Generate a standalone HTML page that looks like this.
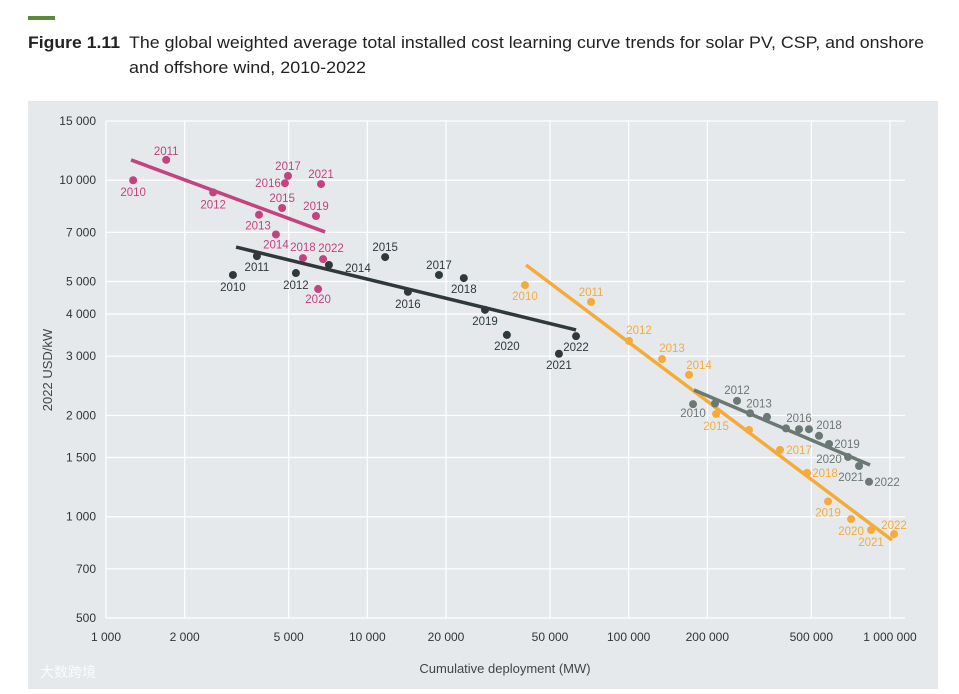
<!DOCTYPE html>
<html><head><meta charset="utf-8"><style>
body{margin:0;background:#fff;width:959px;height:689px;overflow:hidden;font-family:"Liberation Sans","Noto Sans CJK SC",sans-serif}
</style></head><body>
<svg id="chart" width="959" height="689" xmlns="http://www.w3.org/2000/svg" style="font-family:'Liberation Sans','Noto Sans CJK SC',sans-serif">
<rect x="28" y="16" width="27" height="4" fill="#5a8a3a"/>
<text x="28" y="48" font-size="16.5" font-weight="bold" fill="#222" textLength="92" lengthAdjust="spacingAndGlyphs">Figure 1.11</text>
<text x="129" y="48" font-size="17" fill="#222" textLength="795" lengthAdjust="spacingAndGlyphs">The global weighted average total installed cost learning curve trends for solar PV, CSP, and onshore</text>
<text x="129" y="73" font-size="17" fill="#222" textLength="237" lengthAdjust="spacingAndGlyphs">and offshore wind, 2010-2022</text>
<rect x="28" y="101" width="910" height="588" fill="#e5e9ec"/>
<g id="grid"></g><g id="axes"></g><g id="series"></g>
<text transform="translate(52,370) rotate(-90)" text-anchor="middle" font-size="13" fill="#444">2022 USD/kW</text>
<text x="505" y="673" text-anchor="middle" font-size="13" fill="#444">Cumulative deployment (MW)</text>
<text x="40" y="677" font-size="14" fill="#fff" opacity="0.8">大数跨境</text>
</svg>
<script>
const xTicks=[1000,2000,5000,10000,20000,50000,100000,200000,500000,1000000];
const xTickLabels=["1 000","2 000","5 000","10 000","20 000","50 000","100 000","200 000","500 000","1 000 000"];
const yTicks=[15000,10000,7000,5000,4000,3000,2000,1500,1000,700,500];
const yTickLabels=["15 000","10 000","7 000","5 000","4 000","3 000","2 000","1 500","1 000","700","500"];
const years=[2010,2011,2012,2013,2014,2015,2016,2017,2018,2019,2020,2021,2022];
const cspX=[1270,1700,2570,3850,4470,4720,4840,4970,5670,6360,6480,6650,6770];
const cspY=[10000,11500,9200,7900,6900,8270,9800,10300,5870,7830,4750,9740,5830];
const cspTrendX=[1247,6890];const cspTrendY=[11490,7020];
const onX=[3060,3780,5330,null,7130,11700,14300,18800,23400,28200,34200,54100,62900];
const onY=[5230,5950,5300,null,5600,5910,4660,5230,5120,4120,3470,3050,3440];
const onTrendX=[3145,62900];const onTrendY=[6330,3590];
const pvX=[40100,71800,100300,134200,170200,216000,288700,379500,481400,579400,709600,846300,1036000];
const pvY=[4880,4350,3330,2940,2640,2020,1810,1580,1350,1110,984,913,888];
const pvTrendX=[40480,1018000];const pvTrendY=[5600,852];
const offX=[176300,214000,259800,291400,338300,400000,448700,489800,535200,584500,690800,761200,831200];
const offY=[2160,2170,2210,2030,1980,1830,1820,1820,1740,1645,1505,1415,1270];
const offTrendX=[177800,838500];const offTrendY=[2380,1425];

// layout-only label offsets (dx,dy) per year; null = no label
const cspLab=[[0,12],[0,-9],[0,12],[-1,11],[0,10],[0,-10],[-17,0],[0,-10],[0,-11],[0,-10],[0,10],[0,-10],[8,-11]];
const onLab=[[0,12],[0,11],[0,12],null,[29,3],[0,-10],[0,12],[0,-10],[0,11],[0,11],[0,11],[0,11],[0,11]];
const pvLab=[[0,11],[0,-10],[10,-11],[10,-11],[10,-10],[0,12],null,[19,0],[18,0],[0,11],[0,12],[0,12],[0,-9]];
const offLab=[[0,9],null,[0,-11],[9,-10],null,null,[0,-11],null,[10,-11],[18,0],[-19,2],[-8,11],[18,0]];

const X0=106,X1=890,Y0=618,YT=121;
const lyMin=Math.log10(500),lyMax=Math.log10(15000);
function sx(v){return X0+(Math.log10(v)-3)/3*(X1-X0);}
function sy(v){return Y0-(Math.log10(v)-lyMin)/(lyMax-lyMin)*(Y0-YT);}
const NS="http://www.w3.org/2000/svg";
function mk(tag,at,parent){const e=document.createElementNS(NS,tag);for(const k in at)e.setAttribute(k,at[k]);parent.appendChild(e);return e;}
const grid=document.getElementById('grid'),axes=document.getElementById('axes'),ser=document.getElementById('series');
xTicks.forEach((t,i)=>{
  const l=mk('line',{x1:sx(t),x2:sx(t),y1:YT,y2:Y0,stroke:'#fff','stroke-width':1.2},grid);
  
  
  const tx=mk('text',{x:sx(t),y:641,'text-anchor':'middle','font-size':12,fill:'#333'},axes);
  tx.textContent=xTickLabels[i];
  
  
});
yTicks.forEach((t,i)=>{
  const l=mk('line',{x1:X0,x2:905,y1:sy(t),y2:sy(t),stroke:'#fff','stroke-width':1.2},grid);
  
  
  const tx=mk('text',{x:96,y:sy(t)+4,'text-anchor':'end','font-size':12,fill:'#333'},axes);
  tx.textContent=yTickLabels[i];
  
  
});
function series(name,xs,ys,tx,ty,labs,col){
  const g=mk('g',{},ser);
  
  
  const tl=mk('line',{x1:sx(tx[0]),y1:sy(ty[0]),x2:sx(tx[1]),y2:sy(ty[1]),stroke:col,'stroke-width':3.5},g);
  
  
  xs.forEach((x,i)=>{
    if(x==null)return;
    const cx=sx(x),cy=sy(ys[i]);
    const c=mk('circle',{cx:cx,cy:cy,r:4,fill:col},g);
    
    
    const lb=labs[i];
    if(lb){
      const t=mk('text',{x:cx+lb[0],y:cy+lb[1]+4,'text-anchor':'middle','font-size':11.5,fill:col},g);
      t.textContent=years[i];
      
      
    }
  });
}
series('csp',cspX,cspY,cspTrendX,cspTrendY,cspLab,'#c4427f');
series('onshore-wind',onX,onY,onTrendX,onTrendY,onLab,'#2f393c');
series('solar-pv',pvX,pvY,pvTrendX,pvTrendY,pvLab,'#f5ab3a');
series('offshore-wind',offX,offY,offTrendX,offTrendY,offLab,'#6b7873');
</script>
</body></html>
